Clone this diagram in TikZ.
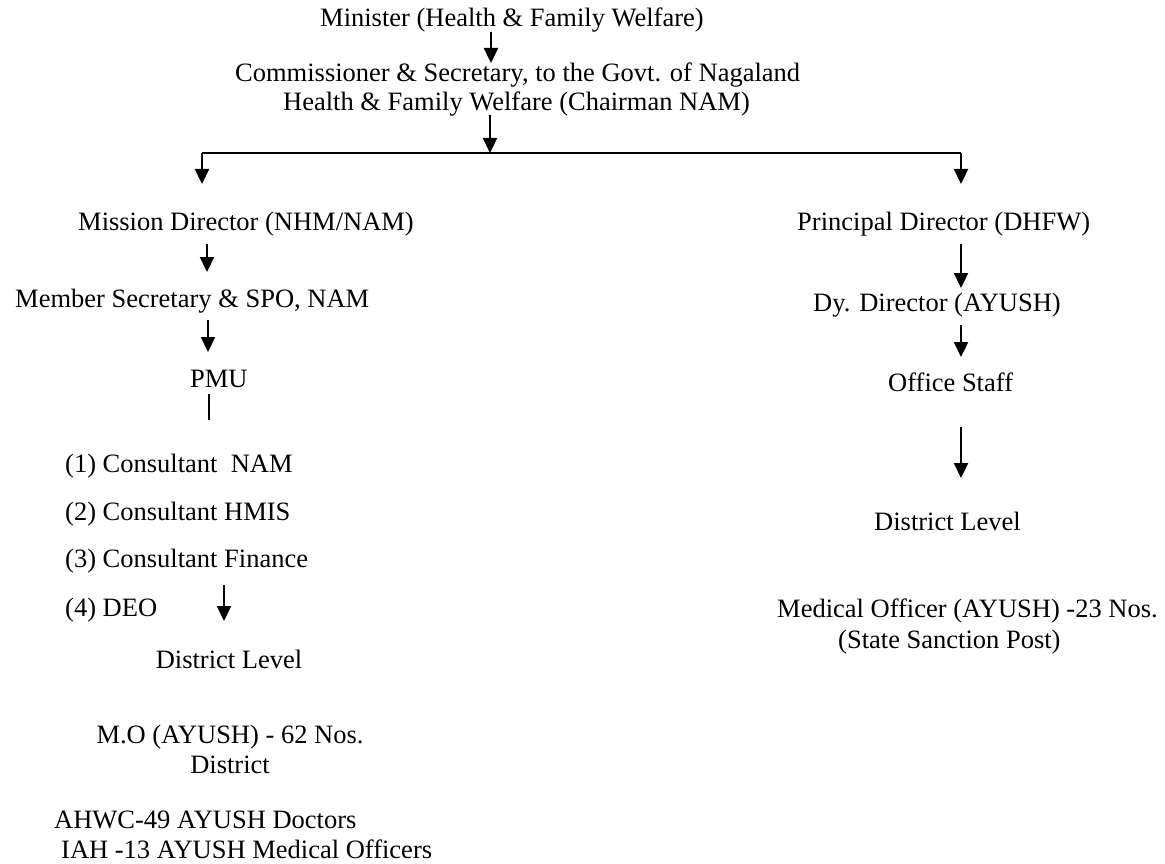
\documentclass[tikz,border=0pt]{standalone}
\usepackage{fontspec}
\setmainfont{Liberation Serif}
\usetikzlibrary{arrows.meta}
\tikzset{
  lbl/.style={inner sep=0pt, anchor=base west, font=\fontsize{26.5}{30}\selectfont},
  lblc/.style={inner sep=0pt, anchor=base, font=\fontsize{26.5}{30}\selectfont},
  conn/.style={line width=2.3pt, -{Triangle[width=14pt,length=15pt]}},
  plain/.style={line width=2.3pt}
}
\begin{document}
\begin{tikzpicture}[x=1pt,y=-1pt]
\useasboundingbox (0,0) rectangle (1165,864);
% top
\node[lbl] (min) at (320,27) {Minister (Health \& Family Welfare)};
\node[lbl] (com) at (235,82) {Commissioner \& Secretary, to the Govt. of Nagaland};
\node[lbl] (hfw) at (283,111) {Health \& Family Welfare (Chairman NAM)};
% left branch
\node[lbl] (md) at (78,230) {Mission Director (NHM/NAM)};
\node[lbl] (ms) at (15,307) {Member Secretary \& SPO, NAM};
\node[lbl] (pmu) at (190,387) {PMU};
\node[lbl] (c1) at (65,472) {(1) Consultant\ \ NAM};
\node[lbl] (c2) at (65,520) {(2) Consultant HMIS};
\node[lbl] (c3) at (65,567) {(3) Consultant Finance};
\node[lbl] (c4) at (65,616) {(4) DEO};
\node[lblc] (dl1) at (229,668) {District Level};
\node[lblc] (mo1) at (230,743) {M.O (AYUSH) - 62 Nos.};
\node[lblc] (dis) at (230,773) {District};
\node[lbl] (ahwc) at (54,828) {AHWC-49 AYUSH Doctors};
\node[lbl] (iah) at (61,858) {IAH -13 AYUSH Medical Officers};
% right branch
\node[lbl] (pd) at (797,230) {Principal Director (DHFW)};
\node[lbl] (dd) at (813,311) {Dy. Director (AYUSH)};
\node[lbl] (os) at (888,391) {Office Staff};
\node[lbl] (dl2) at (874,530) {District Level};
\node[lbl] (mo2) at (777,617) {Medical Officer (AYUSH) -23 Nos.};
\node[lbl] (ssp) at (838,648) {(State Sanction Post)};
% connector coordinates
\coordinate (a1s) at (491,32);  \coordinate (a1e) at (491,63);
\coordinate (a2s) at (490,115); \coordinate (a2e) at (490,153);
\coordinate (bl) at (202,153);  \coordinate (br) at (961,153);
\coordinate (ble) at (202,184); \coordinate (bre) at (961,184);
\coordinate (l1s) at (207,244); \coordinate (l1e) at (207,272);
\coordinate (l2s) at (208,320); \coordinate (l2e) at (208,352);
\coordinate (l3s) at (209,394); \coordinate (l3e) at (209,420);
\coordinate (l4s) at (224,585); \coordinate (l4e) at (224,621);
\coordinate (r1s) at (961,244); \coordinate (r1e) at (961,288);
\coordinate (r2s) at (961,325); \coordinate (r2e) at (961,357);
\coordinate (r3s) at (961,427); \coordinate (r3e) at (961,478);
% connectors
\draw[conn] (a1s) -- (a1e);
\draw[conn] (a2s) -- (a2e);
\draw[plain] (bl) -- (br);
\draw[conn] (bl) -- (ble);
\draw[conn] (br) -- (bre);
\draw[conn] (l1s) -- (l1e);
\draw[conn] (l2s) -- (l2e);
\draw[plain] (l3s) -- (l3e);
\draw[conn] (l4s) -- (l4e);
\draw[conn] (r1s) -- (r1e);
\draw[conn] (r2s) -- (r2e);
\draw[conn] (r3s) -- (r3e);
\end{tikzpicture}
\end{document}
